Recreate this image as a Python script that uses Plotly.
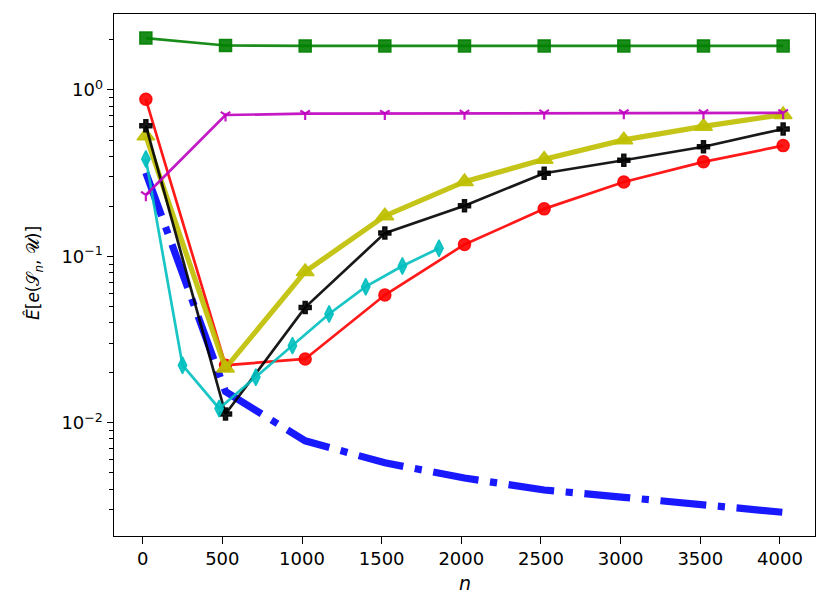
import numpy as np
import plotly.graph_objects as go

# ---- data ----
n_main = [20, 520, 1020, 1520, 2020, 2520, 3020, 3520, 4020]
n_cyan = [20, 250, 480, 710, 940, 1170, 1400, 1630, 1860]

blue_vals = [0.318, 0.0154, 0.0078, 0.00575, 0.00466, 0.00395, 0.00357, 0.00322, 0.00290]
red_vals = [0.879, 0.0222, 0.0242, 0.0586, 0.118, 0.193, 0.280, 0.370, 0.463]
yellow_vals = [0.529, 0.0213, 0.0810, 0.175, 0.281, 0.383, 0.501, 0.604, 0.711]
black_vals = [0.610, 0.0113, 0.0494, 0.138, 0.2017, 0.316, 0.378, 0.456, 0.583]
cyan_vals = [0.385, 0.0222, 0.0122, 0.0188, 0.0291, 0.0451, 0.0658, 0.0875, 0.112]
magenta_vals = [0.234, 0.707, 0.720, 0.722, 0.724, 0.726, 0.728, 0.729, 0.729]
green_vals = [2.05, 1.85, 1.84, 1.84, 1.84, 1.84, 1.84, 1.84, 1.84]

x_ticks = [0, 500, 1000, 1500, 2000, 2500, 3000, 3500, 4000]
y_ticks = [0.01, 0.1, 1.0]
y_ticktext = ["10<sup>\u22122</sup>", "10<sup>\u22121</sup>", "10<sup>0</sup>"]
y_minor = [m * 10.0 ** e for e in (-3, -2, -1, 0) for m in range(2, 10)]

FONT = "DejaVu Sans"

# the page body has an 8px margin, so the figure is drawn 8px in from the window corner
OFF = 8
W, H = 830 - OFF, 614 - OFF
ML, MT = 114 - OFF, 14 - OFF
pw = 815 - 114
ph = 536 - 14
MR = W - ML - pw
MB = H - MT - ph


def rgba(r, g, b, a=0.9):
    return f"rgba({r},{g},{b},{a})"


fig = go.Figure()

# blue dash-dot curve
fig.add_trace(go.Scatter(
    x=n_main, y=blue_vals, mode="lines",
    line=dict(color=rgba(0, 0, 255), width=7.2, dash="46px,11.6px,7.2px,11.6px"),
))


def add_series(x, y, color, symbol, size, lw, mlw=1.5):
    fig.add_trace(go.Scatter(
        x=x, y=y, mode="lines",
        line=dict(color=color, width=lw),
    ))
    fig.add_trace(go.Scatter(
        x=x, y=y, mode="markers",
        marker=dict(color=color, symbol=symbol, size=size,
                    line=dict(color=color, width=mlw)),
    ))


add_series(n_main, red_vals, rgba(255, 0, 0), "circle", 12, 2.7)
add_series(n_main, yellow_vals, rgba(191, 191, 0), "triangle-up", 15.5, 5.2)
add_series(n_main, black_vals, rgba(0, 0, 0), "cross", 10, 2.7)
add_series(n_cyan, cyan_vals, rgba(0, 191, 191), "diamond-tall", 12, 2.7)
add_series(n_main, magenta_vals, rgba(191, 0, 191), "y-down", 8, 2.7, mlw=2.2)
add_series(n_main, green_vals, rgba(0, 128, 0), "square", 12, 2.7)

axis_common = dict(
    showline=True, mirror=True, linecolor="black", linewidth=1.4,
    ticks="outside", ticklen=6.3, tickwidth=1.4, tickcolor="black",
    showgrid=False, zeroline=False, automargin=False,
    tickfont=dict(family=FONT, size=18, color="black"),
)

fig.update_layout(
    width=W, height=H,
    margin=dict(l=ML, r=MR, t=MT, b=MB),
    paper_bgcolor="white", plot_bgcolor="white",
    showlegend=False,
    font=dict(family=FONT, size=18, color="black"),
    xaxis=dict(
        range=[-180, 4220],
        tickvals=x_ticks,
        **axis_common,
    ),
    yaxis=dict(
        type="log",
        range=[np.log10(0.00209), np.log10(2.86)],
        tickvals=y_ticks, ticktext=y_ticktext,
        minor=dict(tickvals=y_minor, ticks="outside", ticklen=3.6, tickwidth=1, tickcolor="black"),
        **axis_common,
    ),
    annotations=[
        dict(text="<i>n</i>", xref="paper", yref="paper",
             x=0.5, y=-(583 - 536) / ph, xanchor="center", yanchor="middle",
             showarrow=False, font=dict(family=FONT, size=19, color="black")),
        dict(text="<i>\u00ca</i>[<i>e</i>(\U0001D4AE<sub><i>n</i></sub>, \U0001D4B0)]",
             xref="paper", yref="paper",
             x=(34 - 114) / pw, y=1 - (273 - 14) / ph, xanchor="center", yanchor="middle",
             textangle=-90, showarrow=False,
             font=dict(family=FONT, size=17, color="black")),
    ],
)

fig.write_html("out.html")
